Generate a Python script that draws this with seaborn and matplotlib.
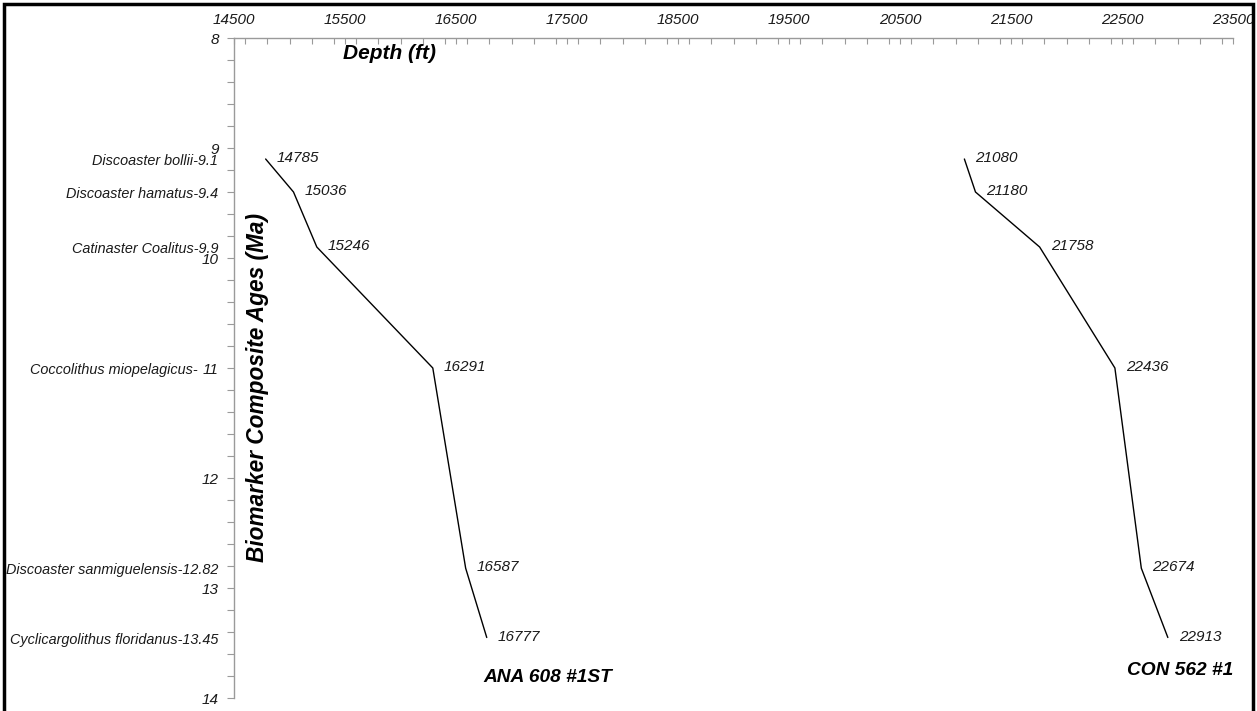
import matplotlib
matplotlib.use("Agg")
import matplotlib.pyplot as plt
from matplotlib.ticker import MultipleLocator
from matplotlib.patches import Rectangle
import seaborn as sns
import pandas as pd

# Biostratigraphic markers (age in Ma)
marker_names = [
    "Discoaster bollii-9.1",
    "Discoaster hamatus-9.4",
    "Catinaster Coalitus-9.9",
    "Coccolithus miopelagicus-",
    "Discoaster sanmiguelensis-12.82",
    "Cyclicargolithus floridanus-13.45",
]
marker_ages = [9.1, 9.4, 9.9, 11.0, 12.82, 13.45]

# Depth (ft) at which each marker is picked in each well
ana_depths = [14785, 15036, 15246, 16291, 16587, 16777]
con_depths = [21080, 21180, 21758, 22436, 22674, 22913]
well_names = ["ANA 608 #1ST", "CON 562 #1"]

x_ticks = [14500, 15500, 16500, 17500, 18500, 19500, 20500, 21500, 22500, 23500]
y_ticks = [8, 9, 10, 11, 12, 13, 14]

df = pd.concat([
    pd.DataFrame({"depth": ana_depths, "age": marker_ages, "well": well_names[0]}),
    pd.DataFrame({"depth": con_depths, "age": marker_ages, "well": well_names[1]}),
])

sns.set_style("white")
plt.rcParams["font.family"] = ["Liberation Sans", "DejaVu Sans"]

W, H, DPI = 1257, 711, 100
fig = plt.figure(figsize=(W / DPI, H / DPI), dpi=DPI)
ax = fig.add_axes([234 / W, 1 - 698 / H, (1233 - 234) / W, (698 - 38) / H])

sns.lineplot(data=df, x="depth", y="age", units="well", estimator=None,
             sort=False, color="black", linewidth=1.0, ax=ax, legend=False)

ax.set_xlim(14500, 23500)
ax.set_ylim(14, 8)
ax.xaxis.tick_top()
ax.set_xticks(x_ticks)
ax.set_yticks(y_ticks)
ax.xaxis.set_minor_locator(MultipleLocator(200))
ax.yaxis.set_minor_locator(MultipleLocator(0.2))
ax.set_xlabel("")
ax.set_ylabel("")

spine_col = "#9a9a9a"
for side in ["right", "bottom"]:
    ax.spines[side].set_visible(False)
for side in ["left", "top"]:
    ax.spines[side].set_color(spine_col)
    ax.spines[side].set_linewidth(1.0)

txt_col = "#1a1a1a"
ax.tick_params(axis="x", which="both", direction="in", length=4, width=0.8,
               color=spine_col, top=True, bottom=False, labeltop=True,
               labelbottom=False, labelsize=11, labelcolor=txt_col, pad=8)
ax.tick_params(axis="y", which="both", direction="out", length=5, width=0.8,
               color=spine_col, left=True, labelsize=11, labelcolor=txt_col, pad=6)
for lab in ax.get_xticklabels() + ax.get_yticklabels():
    lab.set_fontstyle("italic")

# Value labels beside each pick
for depths in (ana_depths, con_depths):
    for d, a in zip(depths, marker_ages):
        ax.annotate(f"{d}", (d, a), xytext=(11, 1), textcoords="offset pixels",
                    ha="left", va="center", fontsize=11, style="italic",
                    color=txt_col)

# Marker names along the age axis
for name, a in zip(marker_names, marker_ages):
    dx = -36 if name.endswith("-") else -16
    ax.annotate(name, (0, a), xycoords=("axes fraction", "data"),
                xytext=(dx, -2), textcoords="offset pixels",
                ha="right", va="center", fontsize=10.4, style="italic",
                color=txt_col, annotation_clip=False)

ax.text(15905, 8.14, "Depth (ft)", fontsize=15, fontweight="bold",
        style="italic", ha="center", va="center", color="black")
ax.text(0.024, 0.47, "Biomarker Composite Ages (Ma)", transform=ax.transAxes,
        rotation=90, fontsize=16.3, fontweight="bold", style="italic",
        ha="center", va="center", color="black")

ax.text(17324, 13.81, well_names[0], fontsize=13.8, fontweight="bold",
        style="italic", ha="center", va="center", color="black")
ax.text(23020, 13.75, well_names[1], fontsize=13.8, fontweight="bold",
        style="italic", ha="center", va="center", color="black")

# Frame around the figure
fig.patches.append(Rectangle((4 / W, -0.05), (W - 8) / W, 1.05 - 4 / H,
                             transform=fig.transFigure, fill=False,
                             edgecolor="black", linewidth=2.5))

fig.savefig("out.png", dpi=DPI)
